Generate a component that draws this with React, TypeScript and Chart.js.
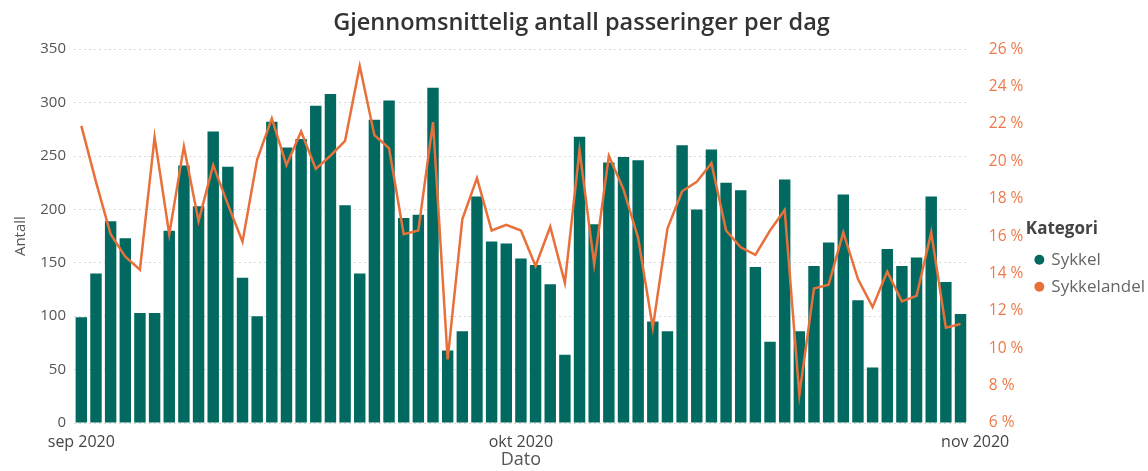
import { useEffect, useRef } from "react";
import { Chart, registerables } from "chart.js";

Chart.register(...registerables);

const sykkel = [
  99, 140, 189, 173, 103, 103, 180, 241, 203, 273, 240, 136, 100, 282, 258,
  266, 297, 308, 204, 140, 284, 302, 192, 195, 314, 68, 86, 212, 170, 168,
  154, 148, 130, 64, 268, 186, 244, 249, 246, 95, 86, 260, 200, 256, 225,
  218, 146, 76, 228, 86, 147, 169, 214, 115, 52, 163, 147, 155, 212, 132, 102,
];

const sykkelandel = [
  21.9, 18.9, 16.1, 14.9, 14.2, 21.3, 16.1, 20.8, 16.8, 19.8, 17.7, 15.7, 20.1, 22.3, 19.8,
  21.6, 19.6, 20.3, 21.1, 25.1, 21.4, 20.7, 16.1, 16.3, 22.1, 9.4, 16.9, 19.1, 16.3, 16.6,
  16.3, 14.4, 16.5, 13.5, 20.6, 14.5, 20.3, 18.5, 15.9, 11.1, 16.4, 18.4, 18.9, 19.9, 16.3,
  15.4, 15.0, 16.3, 17.4, 7.5, 13.2, 13.4, 16.2, 13.7, 12.2, 14.1, 12.5, 12.8, 16.2, 11.1, 11.3,
];

// day number (1 = 1 Sep 2020)
const days = sykkel.map((_, i) => i + 1);

const xTickDays = [1, 31, 62];
const xTickLabels = ["sep 2020", "okt 2020", "nov 2020"];

const TEAL = "#01695F";
const ORANGE = "#E8703A";
const FONT = "'Open Sans', 'Noto Sans', sans-serif";

export default function App() {
  const ref = useRef<HTMLCanvasElement>(null);

  useEffect(() => {
    const chart = new Chart(ref.current!, {
      type: "bar",
      data: {
        datasets: [
          {
            type: "bar",
            label: "Sykkel",
            data: days.map((d, i) => ({ x: d, y: sykkel[i] })),
            backgroundColor: TEAL,
            yAxisID: "y",
            order: 2,
            categoryPercentage: 1,
            barPercentage: 0.78,
          } as any,
          {
            type: "line",
            label: "Sykkelandel",
            data: days.map((d, i) => ({ x: d, y: sykkelandel[i] })),
            borderColor: ORANGE,
            backgroundColor: ORANGE,
            borderWidth: 2.5,
            pointRadius: 0,
            tension: 0,
            yAxisID: "y1",
            order: 1,
          } as any,
        ],
      },
      options: {
        responsive: true,
        maintainAspectRatio: false,
        animation: false,
        layout: { padding: { left: 8, right: -7, top: 0, bottom: 0 } },
        plugins: {
          tooltip: { enabled: false },
          title: {
            display: true,
            text: "Gjennomsnittelig antall passeringer per dag",
            color: "#333",
            font: { family: FONT, size: 23.5, weight: 600 },
            padding: { top: 9, bottom: 12 },
          },
          legend: {
            position: "right",
            align: "center",
            title: {
              display: true,
              text: "Kategori",
              color: "#444",
              position: "start",
              font: { family: FONT, size: 17, weight: "bold" },
              padding: { top: 55, bottom: 0 },
            },
            labels: {
              usePointStyle: true,
              pointStyle: "circle",
              boxWidth: 7,
              boxHeight: 7,
              color: "#666",
              padding: 10,
              font: { family: FONT, size: 17 },
              sort: (a: any, b: any) => a.datasetIndex - b.datasetIndex,
              generateLabels: (c: any) =>
                (Chart.defaults.plugins.legend.labels.generateLabels as any)(c).map((l: any) => ({
                  ...l,
                  lineWidth: 0,
                  strokeStyle: l.fillStyle,
                })),
            },
          },
        },
        scales: {
          x: {
            type: "linear",
            min: 0.5,
            max: 61.5,
            offset: false,
            grid: { display: false },
            border: { display: false },
            afterBuildTicks: (scale: any) => {
              scale.ticks = xTickDays.map((v) => ({ value: v }));
            },
            afterFit: (scale: any) => {
              scale.height = 48;
            },
            ticks: {
              autoSkip: false,
              maxRotation: 0,
              color: "#444",
              padding: 2,
              font: { family: FONT, size: 16 },
              callback: (v: any) => {
                const i = xTickDays.indexOf(Number(v));
                return i >= 0 ? xTickLabels[i] : "";
              },
            },
            title: {
              display: true,
              text: "Dato",
              color: "#555",
              font: { family: FONT, size: 18 },
              padding: 0,
            },
          } as any,
          y: {
            position: "left",
            min: 0,
            max: 350,
            afterFit: (scale: any) => {
              scale.width = 66;
            },
            ticks: {
              stepSize: 50,
              color: "#555",
              padding: 8,
              font: { family: FONT, size: 15 },
            },
            grid: { color: "#d8d8d8", drawTicks: false, lineWidth: 1 },
            border: { display: false, dash: [2, 3] },
            title: {
              display: true,
              text: "Antall",
              color: "#555",
              font: { family: FONT, size: 15 },
              padding: 4,
            },
          } as any,
          y1: {
            position: "right",
            min: 6,
            max: 26,
            afterFit: (scale: any) => {
              scale.width = 58;
            },
            ticks: {
              stepSize: 2,
              color: "#EC7A48",
              padding: 21,
              font: { family: FONT, size: 15.5 },
              callback: (v: any) => `${v} %`,
            },
            grid: { display: false, drawTicks: false },
            border: { display: false },
          } as any,
        },
      },
    });
    return () => chart.destroy();
  }, []);

  return (
    <div style={{ position: "fixed", left: 0, top: 0, width: 1148, height: 471, background: "#fff" }}>
      <canvas ref={ref} />
    </div>
  );
}
